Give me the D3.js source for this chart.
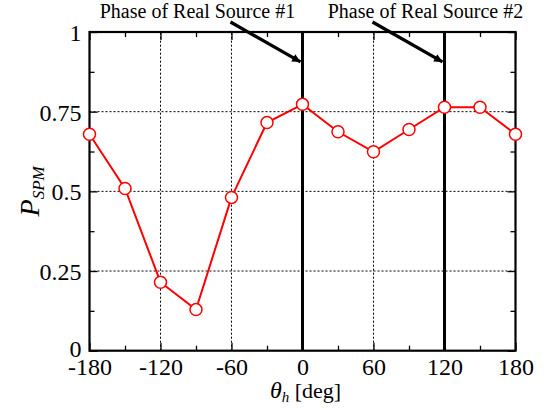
<!DOCTYPE html>
<html><head><meta charset="utf-8">
<script src="https://cdn.jsdelivr.net/npm/d3@7"></script>
<style>body{margin:0;background:#fff}svg{display:block}text{font-family:"Liberation Serif","Times New Roman",serif}</style>
</head><body>
<script>
const theta = [-180,-150,-120,-90,-60,-30,0,30,60,90,120,150,180];
const pspm  = [0.679,0.509,0.215,0.129,0.481,0.716,0.773,0.687,0.624,0.694,0.764,0.764,0.679];
const xTicks = [-180,-120,-60,0,60,120,180];
const yTicks = [0,0.25,0.5,0.75,1];
const yTickLabels = ["0","0.25","0.5","0.75","1"];
const sources = [0,120];
const sourceLabels = ["Phase of Real Source #1","Phase of Real Source #2"];

const W=546,H=410;
const m={l:89.5,r:30.5,t:32,b:59.3};
const svg=d3.select("body").append("svg").attr("width",W).attr("height",H);
const x=d3.scaleLinear().domain([-180,180]).range([m.l,W-m.r]);
const y=d3.scaleLinear().domain([0,1]).range([H-m.b,m.t]);
const g=svg.append("g");

// grid
const gridX=xTicks.filter(v=>v>-180&&v<180&&!sources.includes(v));
g.selectAll(".gx").data(gridX).join("line").attr("x1",d=>x(d)).attr("x2",d=>x(d)).attr("y1",y(0)).attr("y2",y(1))
 .attr("stroke","#000").attr("stroke-width",1).attr("stroke-dasharray","2,2");
g.selectAll(".gy").data(yTicks.filter(v=>v>0&&v<1)).join("line").attr("y1",d=>y(d)).attr("y2",d=>y(d)).attr("x1",x(-180)).attr("x2",x(180))
 .attr("stroke","#000").attr("stroke-width",1).attr("stroke-dasharray","2,2");

// axes with inward ticks
const minorX=d3.range(-150,180,60);
const minorY=d3.range(0.125,1,0.25);
function axes(){
  const bx=d3.axisBottom(x).tickValues(xTicks).tickSize(-8).tickPadding(7).tickFormat(d=>String(d));
  const ax=svg.append("g").attr("transform",`translate(0,${y(0)})`).call(bx);
  const tx=svg.append("g").attr("transform",`translate(0,${y(1)})`).call(d3.axisTop(x).tickValues(xTicks).tickSize(-8).tickFormat(""));
  const mbx=svg.append("g").attr("transform",`translate(0,${y(0)})`).call(d3.axisBottom(x).tickValues(minorX).tickSize(-5).tickFormat(""));
  const mtx=svg.append("g").attr("transform",`translate(0,${y(1)})`).call(d3.axisTop(x).tickValues(minorX).tickSize(-5).tickFormat(""));
  const ly=svg.append("g").attr("transform",`translate(${x(-180)},0)`).call(d3.axisLeft(y).tickValues(yTicks).tickSize(-8).tickPadding(8).tickFormat((d,i)=>yTickLabels[i]));
  const ry=svg.append("g").attr("transform",`translate(${x(180)},0)`).call(d3.axisRight(y).tickValues(yTicks).tickSize(-8).tickFormat(""));
  const mly=svg.append("g").attr("transform",`translate(${x(-180)},0)`).call(d3.axisLeft(y).tickValues(minorY).tickSize(-5).tickFormat(""));
  const mry=svg.append("g").attr("transform",`translate(${x(180)},0)`).call(d3.axisRight(y).tickValues(minorY).tickSize(-5).tickFormat(""));
  [ax,tx,mbx,mtx,ly,ry,mly,mry].forEach(a=>{a.select(".domain").remove();a.selectAll("line").attr("stroke","#000").attr("stroke-width",1.3);
    a.selectAll("text").attr("font-family","Liberation Serif").attr("font-size",24).attr("fill","#000");});
  ax.selectAll("text").attr("dy","0.71em");
  ly.selectAll("text").attr("dy",(d)=>d===0?"0.26em":"0.36em");
}
axes();

// source lines
g.selectAll(".src").data(sources).join("line").attr("x1",d=>x(d)).attr("x2",d=>x(d)).attr("y1",y(0)).attr("y2",y(1))
 .attr("stroke","#000").attr("stroke-width",3);

// frame
svg.append("rect").attr("x",x(-180)).attr("y",y(1)).attr("width",x(180)-x(-180)).attr("height",y(0)-y(1))
 .attr("fill","none").attr("stroke","#000").attr("stroke-width",2.2);

// data line
const line=d3.line().x((d,i)=>x(theta[i])).y(d=>y(d));
svg.append("path").datum(pspm).attr("d",line).attr("fill","none").attr("stroke","#ff0000").attr("stroke-width",2);
svg.selectAll(".pt").data(pspm).join("circle").attr("cx",(d,i)=>x(theta[i])).attr("cy",d=>y(d)).attr("r",6)
 .attr("fill","#fff").attr("stroke","#ff0000").attr("stroke-width",1.5);

// arrows and labels
const defs=svg.append("defs");
defs.append("marker").attr("id","ah").attr("viewBox","0 0 10 10").attr("refX",10).attr("refY",5)
 .attr("markerWidth",4).attr("markerHeight",2.6).attr("markerUnits","strokeWidth").attr("orient","auto")
 .append("path").attr("d","M0,0L10,5L0,10z").attr("fill","#000");
const labelOffset=[-105,-19];
sources.forEach((s,i)=>{
  svg.append("line").attr("x1",x(s)-72).attr("y1",y(1)-10).attr("x2",x(s)-2).attr("y2",y(0.906))
    .attr("stroke","#000").attr("stroke-width",3.2).attr("marker-end","url(#ah)");
  svg.append("text").attr("x",x(s)+labelOffset[i]).attr("y",18).attr("text-anchor","middle").attr("font-size",20).text(sourceLabels[i]);
});

// axis titles
const yl=svg.append("text").attr("transform",`translate(39,${y(0.5)}) rotate(-90)`).attr("text-anchor","middle");
yl.append("tspan").attr("font-style","italic").attr("font-size",28).text("P");
yl.append("tspan").attr("font-style","italic").attr("font-size",17).attr("dy",5).text("SPM");
const xl=svg.append("text").attr("x",x(0)+3).attr("y",398).attr("text-anchor","middle").attr("font-size",22);
xl.append("tspan").attr("font-style","italic").attr("font-size",24).text("θ");
xl.append("tspan").attr("font-style","italic").attr("font-size",15).attr("dy",4).text("h");
xl.append("tspan").attr("dy",-4).text(" [deg]");
</script>
</body></html>
